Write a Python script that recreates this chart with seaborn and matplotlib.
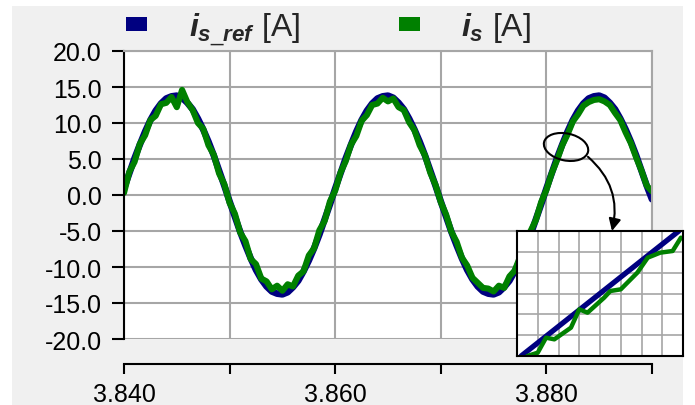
import numpy as np
import pandas as pd
import matplotlib
matplotlib.use("Agg")
import matplotlib.pyplot as plt
import seaborn as sns
from matplotlib.patches import Patch, Rectangle, Ellipse
from matplotlib.transforms import ScaledTranslation

# ---------------- data ----------------
T_START, T_STEP, N = 3.840, 0.0005, 101
TIME = np.round(T_START + T_STEP * np.arange(N), 4)

REF = [0.9, 3.0, 5.1, 7.0, 8.8, 10.4, 11.7, 12.7, 13.4, 13.7,
       13.8, 13.5, 12.8, 11.9, 10.6, 9.1, 7.4, 5.5, 3.4, 1.3,
       -0.9, -3.0, -5.1, -7.0, -8.8, -10.4, -11.7, -12.7, -13.4, -13.7,
       -13.8, -13.5, -12.8, -11.9, -10.6, -9.1, -7.4, -5.5, -3.4, -1.3,
       0.9, 3.0, 5.1, 7.0, 8.8, 10.4, 11.7, 12.7, 13.4, 13.7,
       13.8, 13.5, 12.8, 11.9, 10.6, 9.1, 7.4, 5.5, 3.4, 1.3,
       -0.9, -3.0, -5.1, -7.0, -8.8, -10.4, -11.7, -12.7, -13.4, -13.7,
       -13.8, -13.5, -12.8, -11.9, -10.6, -9.1, -7.4, -5.5, -3.4, -1.3,
       0.9, 3.0, 5.1, 7.0, 8.8, 10.4, 11.7, 12.7, 13.4, 13.7,
       13.8, 13.5, 12.8, 11.9, 10.6, 9.1, 7.4, 5.5, 3.4, 1.3,
       -0.6]

MEAS = [0.3, 3.2, 4.6, 7.1, 8.3, 10.4, 11.0, 12.6, 12.8, 13.6,
        12.2, 14.6, 12.9, 11.8, 10.0, 9.2, 6.9, 5.6, 3.0, 1.5,
        -1.1, -2.6, -5.2, -6.4, -8.9, -9.6, -11.6, -12.0, -13.1, -12.6,
        -13.3, -12.4, -12.7, -11.2, -10.6, -8.4, -7.4, -4.9, -3.6, -0.9,
        0.6, 3.1, 4.7, 7.0, 8.2, 10.3, 11.1, 12.5, 12.7, 13.5,
        13.0, 13.4, 12.2, 11.8, 10.1, 9.0, 6.9, 5.5, 3.1, 1.4,
        -1.0, -2.7, -5.1, -6.5, -8.7, -9.8, -11.5, -12.2, -12.9, -13.0,
        -13.4, -12.6, -12.9, -11.3, -10.5, -8.6, -7.3, -5.0, -3.5, -1.0,
        0.7, 3.0, 4.8, 6.9, 8.4, 10.2, 11.2, 12.4, 12.9, 13.2,
        13.3, 13.0, 12.5, 11.4, 10.4, 8.7, 7.2, 5.2, 3.4, 1.3,
        0.5]

# zoomed detail (inset)
INSET_T_REF = [3.88102, 3.88140, 3.88178]
INSET_REF = [5.5, 7.0, 8.5]
INSET_T_MEAS = [3.88105, 3.88110, 3.88114, 3.88118, 3.88126, 3.88130, 3.88134,
                3.88142, 3.88145, 3.88150, 3.88158, 3.88163, 3.88169, 3.88175,
                3.88179]
INSET_MEAS = [5.50, 5.58, 5.94, 5.90, 6.18, 6.62, 6.54, 6.90, 7.06, 7.10,
              7.50, 7.86, 7.98, 8.02, 8.34]

XTICKS = [3.840, 3.850, 3.860, 3.870, 3.880, 3.890]
XTICK_LABELS = ["3.840", "", "3.860", "", "3.880", ""]
YTICKS = [-20, -15, -10, -5, 0, 5, 10, 15, 20]
YTICK_LABELS = ["-20.0", "-15.0", "-10.0", "-5.0", "0.0", "5.0", "10.0", "15.0", "20.0"]
LABELS = [r"$i_{s\_ref}$ [A]", r"$i_{s}$ [A]"]

BLUE = "#000080"
GREEN = "#008000"
GRID = "#a6a6a6"
PANEL = "#f0f0f0"

# ---------------- style ----------------
sns.set_theme(style="white")
plt.rcParams["font.family"] = ["Liberation Sans", "DejaVu Sans"]
plt.rcParams["mathtext.fontset"] = "custom"
plt.rcParams["mathtext.rm"] = "Liberation Sans"
plt.rcParams["mathtext.it"] = "Liberation Sans:italic:bold"
plt.rcParams["mathtext.bf"] = "Liberation Sans:bold"
plt.rcParams["axes.unicode_minus"] = False

W, H = 695, 406
fig = plt.figure(figsize=(W / 100, H / 100), dpi=100)
fig.patch.set_facecolor("white")
fig.add_artist(Rectangle((12 / W, 0), (683 - 12) / W, (H - 7) / H,
                         transform=fig.transFigure, facecolor=PANEL,
                         edgecolor="none", zorder=-10))

ax = fig.add_axes([124 / W, 1 - 340 / H, (652 - 124) / W, (340 - 52) / H])
ax.set_facecolor("white")

df = pd.DataFrame({"t": TIME, "ref": REF, "meas": MEAS})
sns.lineplot(data=df, x="t", y="ref", ax=ax, color=BLUE, lw=4.8, legend=False)
sns.lineplot(data=df, x="t", y="meas", ax=ax, color=GREEN, lw=4.4, legend=False)

ax.set_xlim(3.840, 3.890)
ax.set_ylim(-20, 20)
ax.set_xticks(XTICKS)
ax.set_xticklabels(XTICK_LABELS)
ax.set_yticks(YTICKS)
ax.set_yticklabels(YTICK_LABELS)
ax.set_xlabel("")
ax.set_ylabel("")
ax.grid(True, color=GRID, lw=1.5)
ax.set_axisbelow(True)
for s in ("top", "right"):
    ax.spines[s].set_color(GRID)
    ax.spines[s].set_linewidth(1.5)
ax.spines["left"].set_color("black")
ax.spines["left"].set_linewidth(1.5)
ax.spines["bottom"].set_color("black")
ax.spines["bottom"].set_linewidth(1.5)
ax.spines["bottom"].set_position(("outward", 18))
ax.tick_params(axis="y", direction="out", length=9, width=1.5, pad=7,
               labelsize=18, colors="black", left=True)
ax.tick_params(axis="x", direction="out", length=7, width=1.5, pad=6,
               labelsize=18, colors="black", bottom=True)

# ellipse marking the zoomed region + curved arrow
ell = Ellipse((0, 0), width=0.45, height=0.27, angle=-12, fill=False,
              edgecolor="black", lw=1.5,
              transform=fig.dpi_scale_trans + ScaledTranslation(3.88186, 6.67, ax.transData),
              zorder=6)
ax.add_patch(ell)
ax.annotate("", xy=(3.88621, -5.0), xytext=(3.88394, 5.3),
            arrowprops=dict(arrowstyle="-|>", connectionstyle="arc3,rad=-0.3",
                            color="black", lw=1.5, mutation_scale=18,
                            shrinkA=0, shrinkB=0), zorder=6)

# legend
handles = [Patch(facecolor=BLUE, edgecolor="none"), Patch(facecolor=GREEN, edgecolor="none")]
fig.legend(handles, LABELS, loc="center", bbox_to_anchor=(0.473, 0.927), ncol=2,
           frameon=False, fontsize=23, handlelength=0.66, handleheight=0.33,
           handletextpad=1.3, columnspacing=3.1, borderaxespad=0, borderpad=0)

# inset
axi = fig.add_axes([517 / W, 1 - 357 / H, (683 - 517) / W, (357 - 232) / H], zorder=5)
axi.set_facecolor("white")
sns.lineplot(x=INSET_T_REF, y=INSET_REF, ax=axi, color=BLUE, lw=3.8, legend=False)
sns.lineplot(x=INSET_T_MEAS, y=INSET_MEAS, ax=axi, color=GREEN, lw=3.2, legend=False)
axi.set_xlim(3.8810, 3.8818)
axi.set_ylim(5.5, 8.5)
axi.set_xticks(np.linspace(3.8810, 3.8818, 9))
axi.set_yticks(np.linspace(5.5, 8.5, 7))
axi.set_xticklabels([])
axi.set_yticklabels([])
axi.tick_params(length=0)
axi.grid(True, color=GRID, lw=1.2)
axi.set_axisbelow(True)
for s in axi.spines.values():
    s.set_color("black")
    s.set_linewidth(1.5)

fig.savefig("out.png", dpi=100, facecolor=fig.get_facecolor())
